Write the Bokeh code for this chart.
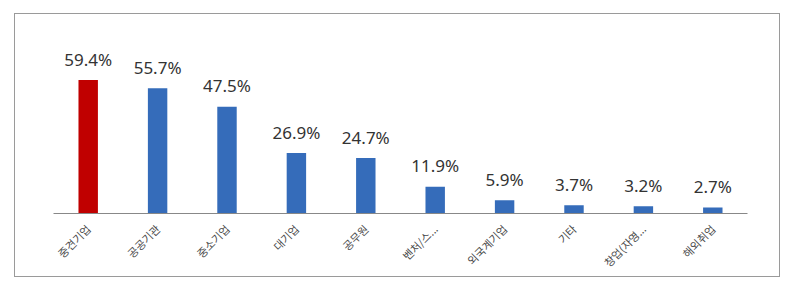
import math
from bokeh.plotting import figure
from bokeh.models import ColumnDataSource, FactorRange, Range1d
from bokeh.core.properties import value
from bokeh.embed import file_html
from bokeh.resources import INLINE

categories = ["중견기업", "공공기관", "중소기업", "대기업", "공무원", "벤처/스...", "외국계기업", "기타", "창업(자영...", "해외취업"]
values = [59.4, 55.7, 47.5, 26.9, 24.7, 11.9, 5.9, 3.7, 3.2, 2.7]
labels = ["59.4%", "55.7%", "47.5%", "26.9%", "24.7%", "11.9%", "5.9%", "3.7%", "3.2%", "2.7%"]
colors = ["#c00000"] + ["#356cba"] * 9

src = ColumnDataSource(dict(cat=categories, val=values, lab=labels, col=colors))

p = figure(width=766, height=264, x_range=FactorRange(*categories, range_padding=0),
           y_range=Range1d(0, 81), output_backend="svg", toolbar_location=None,
           min_border_left=38, min_border_right=34, min_border_top=17, min_border_bottom=64,
           margin=(13, 0, 0, 14))
p.styles = {"border": "1px solid #9a9a9a", "box-sizing": "border-box"}
p.outline_line_color = None
p.xgrid.visible = False
p.ygrid.visible = False
p.yaxis.visible = False

p.vbar(x="cat", top="val", width=0.28, fill_color="col", line_color=None, source=src)
p.text(x="cat", y="val", text="lab", source=src, text_align="center", text_baseline="alphabetic",
       y_offset=-21, text_font_size="17px", text_color="#333333", text_font=value("Noto Sans"))

ax = p.xaxis[0]
ax.axis_line_color = "#888888"
ax.major_tick_line_color = None
ax.minor_tick_line_color = None
ax.major_label_orientation = math.pi / 4
ax.major_label_text_font = "Noto Sans CJK KR"
ax.major_label_text_font_size = "11px"
ax.major_label_text_color = "#4a4a4a"
ax.major_label_standoff = 7

open("out.html", "w").write(file_html(p, INLINE))
